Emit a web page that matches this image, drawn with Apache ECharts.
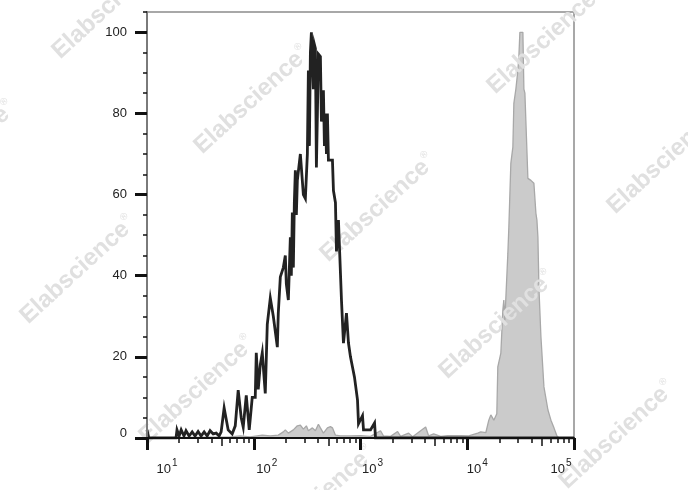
<!DOCTYPE html>
<html><head><meta charset="utf-8">
<script src="https://cdn.jsdelivr.net/npm/echarts@6/dist/echarts.min.js"></script>
<style>html,body{margin:0;padding:0;background:#fff}#c{width:688px;height:490px}</style>
</head><body><div id="c"></div>
<script>
// ---- data (fluorescence intensity vs. % of max) ----
var blackX = [10, 10.4, 18.7, 19.1, 20.0, 20.9, 22.2, 23.2, 24.8, 26.5, 28.2, 30.1, 32.1, 34.3, 36.6, 39.0, 41.7, 44.5, 47.4, 49.5, 52.8, 57.6, 62.8, 67.1, 71.5, 76.3, 79.7, 85.1, 90.7, 96.8, 103.3, 105.6, 110.2, 115.1, 120.2, 128.2, 133.9, 142.9, 152.5, 166.3, 169.8, 177.4, 189.2, 197.6, 201.9, 210.9, 220.2, 224.9, 229.9, 234.9, 240.0, 245.3, 250.7, 256.1, 273.3, 291.6, 304.5, 317.9, 324.9, 332.0, 339.3, 346.7, 362.0, 369.9, 378.0, 386.3, 394.7, 403.3, 421.1, 430.4, 439.8, 449.4, 459.2, 469.3, 479.6, 489.9, 500.6, 546.0, 557.9, 582.6, 595.3, 621.5, 663.3, 692.5, 738.8, 771.5, 805.4, 841.1, 878.3, 937.2, 957.8, 1044, 1067, 1163, 1241, 1354, 1383, 100000];
var blackY = [2, 0, 0, 2, 0.5, 2, 0.5, 1.8, 0.5, 1.5, 0.5, 1.6, 0.5, 1.5, 0.5, 1.8, 1, 1.2, 0.5, 1.5, 7.4, 2, 1, 3, 11.8, 5, 2.7, 10.5, 2, 10, 10, 21, 12, 18, 21, 11, 28, 34.5, 30, 22.4, 30.8, 39.7, 42, 45, 38, 34, 49.5, 40, 55.6, 42, 58, 66, 55, 63.5, 70, 60, 59, 70, 90.6, 72, 95, 100, 86, 97, 96, 66.7, 80, 94.6, 94, 78, 80.8, 85.7, 72, 80, 70, 80, 68.5, 68.5, 61, 58, 46, 53.7, 34, 23.4, 30.8, 23.4, 20, 17.5, 15, 9.4, 3.5, 5.5, 2, 2, 2, 3.7, 0, 0];

var grayX = [10, 60.2, 74.7, 92.7, 120.2, 142.9, 169.8, 189.2, 197.6, 210.9, 234.9, 256.1, 273.3, 291.6, 311.2, 324.9, 354.3, 378.0, 403.3, 421.1, 449.4, 489.9, 522.9, 546.0, 582.6, 649.1, 805.4, 1000, 1241, 1541, 1644, 1913, 2226, 2375, 2823, 3078, 4077, 4350, 4846, 5640, 6561, 8690, 10330, 12550, 13390, 14920, 15920, 16630, 17740, 18920, 19330, 20640, 21540, 22010, 22500, 24010, 24530, 25610, 26750, 27330, 28540, 29800, 30450, 31120, 33200, 33930, 34670, 35430, 36990, 39470, 42110, 43980, 44940, 45920, 46930, 48990, 52290, 57010, 60810, 64910, 69250, 72320, 100000];
var grayY = [0, 0.3, 0.5, 0.3, 0.7, 0.5, 0.7, 1.5, 2, 1.2, 2, 3, 3.2, 2.2, 3, 1.8, 2.5, 1.8, 3.4, 2.5, 1.2, 2.5, 2.8, 2.5, 0.7, 0.5, 0.5, 0.6, 0.4, 1.8, 0.5, 0.4, 1.6, 0.4, 1.2, 0.3, 2.7, 0.5, 1, 0.4, 0.6, 0.6, 0.5, 1.2, 1.5, 1.3, 4.4, 5.7, 4.4, 6, 17.5, 20.9, 31.5, 34, 29, 45.5, 52, 67.7, 71.7, 82.5, 86, 90.6, 94, 100, 100, 86, 85, 78, 64, 63.5, 62.8, 55.4, 53.7, 49.5, 37, 25, 12.6, 6.9, 4.4, 2.5, 0.5, 0, 0];

var xMajor = [10, 100, 1000, 10000, 100000];
var xMinor = [20, 30, 40, 60, 70, 80, 90, 200, 300, 400, 600, 700, 800, 900, 2000, 3000, 4000, 6000, 7000, 8000, 9000, 20000, 30000, 40000, 60000, 70000, 80000, 90000];
var xHalf = [50, 500, 5000, 50000];
var yMajor = [0, 20, 40, 60, 80, 100];
var yMinor = [5, 10, 15, 25, 30, 35, 45, 50, 55, 65, 70, 75, 85, 90, 95, 105];

function pairs(xs, ys) { var out = []; for (var i = 0; i < Math.min(xs.length, ys.length); i++) out.push([xs[i], ys[i]]); return out; }

var FONT = '"Liberation Sans", Arial, sans-serif';
var chart = echarts.init(document.getElementById('c'), null, {renderer: 'canvas'});

var wmCenters = [[110,5],[252,100],[378,208],[497,325],[617,435],[-42,155],[78,270],[197,390],[317,500],[545,40],[665,160]];
var wm = wmCenters.map(function (c) {
  return {
    type: 'text', x: c[0], y: c[1], rotation: 0.74, z: 2,
    style: {
      text: '{a|Elabscience}{r|®}',
      align: 'center', verticalAlign: 'middle',
      rich: {
        a: {fontFamily: FONT, fontWeight: 'bold', fontSize: 24, fill: '#e0e0e0', color: '#e0e0e0'},
        r: {fontFamily: FONT, fontSize: 10, fill: '#e0e0e0', color: '#e0e0e0', padding: [0, 0, 16, 1]}
      }
    }
  };
});

var xRich = {
  p1: {fontFamily: FONT, fontSize: 13, color: '#222', padding: [0, 0, 0, 40]},
  p2: {fontFamily: FONT, fontSize: 13, color: '#222', padding: [0, 0, 0, 26]},
  p3: {fontFamily: FONT, fontSize: 13, color: '#222', padding: [0, 0, 0, 24]},
  p4: {fontFamily: FONT, fontSize: 13, color: '#222', padding: [0, 0, 0, 20]},
  p5: {fontFamily: FONT, fontSize: 13, color: '#222', padding: [0, 0, 0, 0]},
  s1: {fontFamily: FONT, fontSize: 10, color: '#222', padding: [0, 0, 12, 1]},
  s2: {fontFamily: FONT, fontSize: 10, color: '#222', padding: [0, 0, 12, 1]},
  s3: {fontFamily: FONT, fontSize: 10, color: '#222', padding: [0, 0, 12, 1]},
  s4: {fontFamily: FONT, fontSize: 10, color: '#222', padding: [0, 0, 12, 1]},
  s5: {fontFamily: FONT, fontSize: 10, color: '#222', padding: [0, 26, 12, 1]}
};

function hiddenLogAxis(vals, len) {
  return {
    type: 'log', logBase: 10, min: 10, max: 100000, position: 'bottom', z: 5,
    axisLine: {show: false},
    axisTick: {show: true, customValues: vals, length: len, lineStyle: {color: '#111', width: 1.5}},
    axisLabel: {show: false}, splitLine: {show: false}, minorTick: {show: false}
  };
}

chart.setOption({
  animation: false,
  backgroundColor: '#fff',
  grid: {left: 147, right: 114, top: 12, bottom: 52, show: true, borderColor: '#8c8c8c', borderWidth: 1.5, backgroundColor: 'transparent'},
  graphic: {elements: wm},
  xAxis: [
    {
      type: 'log', logBase: 10, min: 10, max: 100000, position: 'bottom', z: 5,
      axisLine: {show: true, lineStyle: {color: '#111', width: 2}},
      axisTick: {show: true, customValues: xMajor, length: 12, lineStyle: {color: '#111', width: 3}},
      axisLabel: {
        customValues: xMajor, margin: 20,
        formatter: function (v) { var e = Math.round(Math.log(v) / Math.LN10); return '{p' + e + '|10}{s' + e + '|' + e + '}'; },
        rich: xRich
      },
      splitLine: {show: false}, minorTick: {show: false}
    },
    hiddenLogAxis(xMinor, 5),
    hiddenLogAxis(xHalf, 8)
  ],
  yAxis: [
    {
      type: 'value', min: 0, max: 105, position: 'left', z: 5,
      axisLine: {show: true, lineStyle: {color: '#7a7a7a', width: 2}},
      axisTick: {show: true, customValues: yMajor, length: 12, lineStyle: {color: '#111', width: 3}},
      axisLabel: {
        customValues: yMajor, margin: 20, fontFamily: FONT, fontSize: 13, color: '#222',
        formatter: function (v) { return v === 0 ? '{z|0}' : String(v); },
        rich: {z: {fontFamily: FONT, fontSize: 13, color: '#222', padding: [0, 0, 10, 0]}}
      },
      splitLine: {show: false}
    },
    {
      type: 'value', min: 0, max: 105, position: 'left', z: 5,
      axisLine: {show: false},
      axisTick: {show: true, customValues: yMinor, length: 4, lineStyle: {color: '#111', width: 1.5}},
      axisLabel: {show: false}, splitLine: {show: false}
    }
  ],
  series: [
    {
      type: 'line', xAxisIndex: 0, yAxisIndex: 0, z: 1, symbol: 'none', smooth: false,
      data: pairs(grayX, grayY),
      lineStyle: {color: '#a8a8a8', width: 1.3},
      areaStyle: {color: '#cbcbcb', opacity: 1}
    },
    {
      type: 'line', xAxisIndex: 0, yAxisIndex: 0, z: 3, symbol: 'none', smooth: false,
      data: pairs(blackX, blackY),
      lineStyle: {color: '#222', width: 2.8, join: 'miter'}
    }
  ]
});
</script></body></html>
